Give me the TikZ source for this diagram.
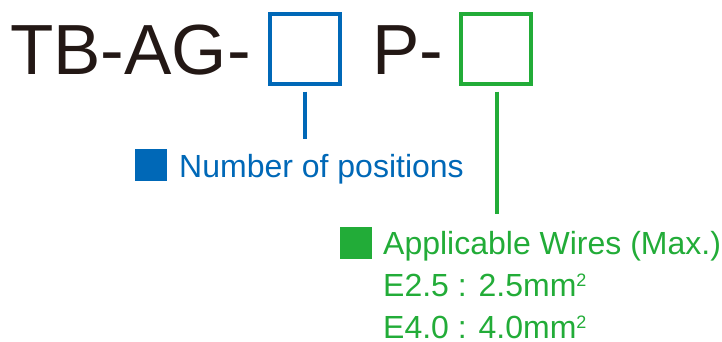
\documentclass[tikz,border=0pt]{standalone}
\usepackage{fontspec}
\setmainfont{Liberation Sans}
\usetikzlibrary{positioning}
\definecolor{codeblue}{HTML}{0068B7}
\definecolor{codegreen}{HTML}{22AC38}
\definecolor{codeblack}{HTML}{231815}
\newcommand{\sqexp}{\raisebox{10pt}{\fontsize{18}{20}\selectfont 2}}

\begin{document}
\begin{tikzpicture}[x=1pt,y=-1pt,
  slot/.style={draw,line width=3.3pt,minimum width=70pt,minimum height=70pt,inner sep=0},
  key/.style={minimum size=32pt,inner sep=0},
  part/.style={anchor=base west,inner sep=0,text=codeblack,font=\fontsize{71}{80}\selectfont},
  lbl/.style={anchor=base west,inner sep=0,font=\fontsize{32}{36}\selectfont}]
\useasboundingbox (0,0) rectangle (722,342);
% model code
\node[part] (tbag) at (10,75) {TB-AG-};
\node[slot,draw=codeblue] (posbox) at (305,49) {};
\node[part] (pfix) at (372,75) {P-};
\node[slot,draw=codegreen] (wirebox) at (496,49) {};
% number of positions
\coordinate (posend) at (305,139);
\draw[codeblue,line width=3.8pt,shorten <=6pt] (posbox.south) -- (posend);
\node[key,fill=codeblue] (poskey) at (151,165) {};
\node[lbl,text=codeblue] (postxt) at (179,177) {Number of positions};
% applicable wires
\coordinate (wireend) at (497,214);
\draw[codegreen,line width=3.8pt,shorten <=6pt] (wirebox.south -| wireend) -- (wireend);
\node[key,fill=codegreen] (wirekey) at (356,243) {};
\node[lbl,text=codegreen] (wiretxt) at (383,254) {Applicable Wires (Max.)};
\node[lbl,text=codegreen] (wirea) at (383,296) {E2.5 : 2.5mm\sqexp};
\node[lbl,text=codegreen] (wireb) at (383,338) {E4.0 : 4.0mm\sqexp};
\end{tikzpicture}
\end{document}
